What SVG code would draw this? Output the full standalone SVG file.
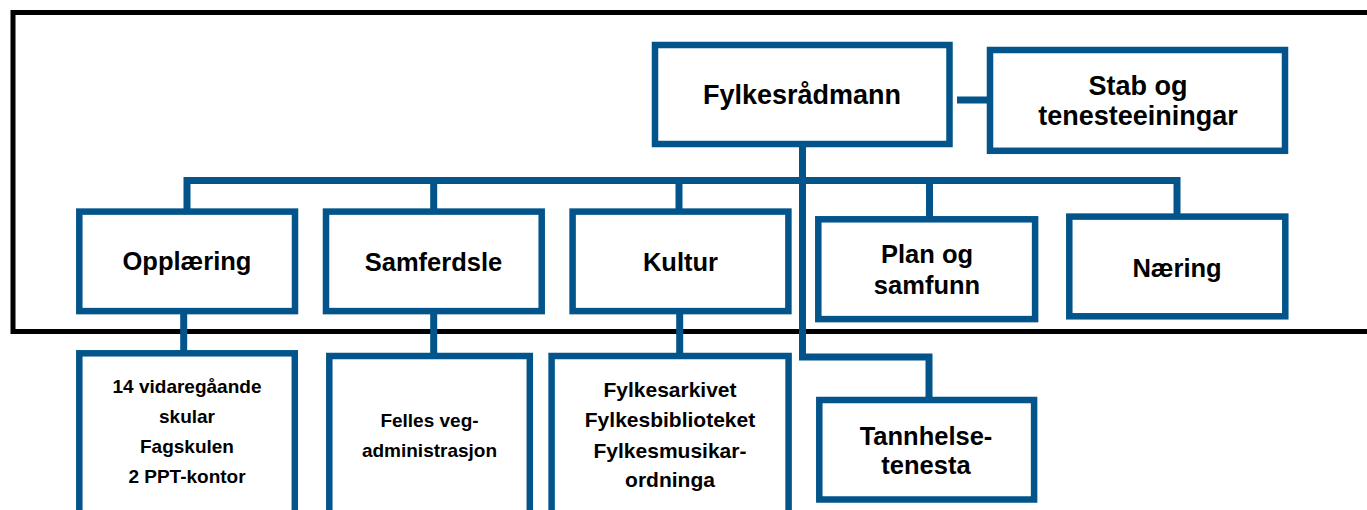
<svg xmlns="http://www.w3.org/2000/svg" width="1367" height="510" viewBox="0 0 1367 510">
<style>
.box{fill:#fff;stroke:#02548a;stroke-width:6.5}
.con{fill:none;stroke:#02548a;stroke-width:7;stroke-linejoin:miter;stroke-linecap:butt}
text{font-family:"Liberation Sans",Arial,sans-serif;font-weight:bold;fill:#000;text-anchor:middle}
.t1{font-size:27px}
.t2{font-size:25.5px}
.s1{font-size:19px}
.s2{font-size:21px}
</style>
<rect width="1367" height="510" fill="#fff"/>
<rect id="frame" x="13" y="12.5" width="1400" height="319" fill="none" stroke="#000" stroke-width="5"/>
<g id="connectors">
<path class="con" d="M957,100 H990"/>
<path class="con" d="M802.5,147 V357 H929 V400"/>
<path class="con" d="M187,211 V180.5 H1177 V216"/>
<path class="con" d="M433.7,180.5 V211"/>
<path class="con" d="M679,180.5 V211"/>
<path class="con" d="M929.5,180.5 V219"/>
<path class="con" d="M183.7,311 V353"/>
<path class="con" d="M433.7,311 V356"/>
<path class="con" d="M679.7,311 V356"/>
</g>
<g id="fylkesradmann"><rect class="box" x="655" y="45" width="294.5" height="99"/><text class="t1" x="802" y="104">Fylkesrådmann</text></g>
<g id="stab"><rect class="box" x="990" y="50" width="295" height="100.8"/><text class="t1" x="1138" y="95">Stab og</text><text class="t1" x="1138" y="125">tenesteeiningar</text></g>
<g id="opplaering"><rect class="box" x="79.3" y="211.6" width="215.7" height="99.5"/><text class="t2" x="187" y="270">Opplæring</text></g>
<g id="samferdsle"><rect class="box" x="326" y="211.6" width="215.7" height="99.5"/><text class="t2" x="433.5" y="270.5">Samferdsle</text></g>
<g id="kultur"><rect class="box" x="572.6" y="211.6" width="215.8" height="99.5"/><text class="t2" x="680.5" y="270.5">Kultur</text></g>
<g id="plan"><rect class="box" x="818.3" y="219.3" width="216.8" height="99.8"/><text class="t2" x="927" y="262.7">Plan og</text><text class="t2" x="927" y="294">samfunn</text></g>
<g id="naering"><rect class="box" x="1069.3" y="216.6" width="216" height="99.7"/><text class="t2" x="1177" y="276.7">Næring</text></g>
<g id="opplaering-sub"><rect class="box" x="79.3" y="353.3" width="215.5" height="170"/><text class="s1" x="187" y="392.7">14 vidaregåande</text><text class="s1" x="187" y="422.7">skular</text><text class="s1" x="187" y="453.3">Fagskulen</text><text class="s1" x="187" y="483.3">2 PPT-kontor</text></g>
<g id="samferdsle-sub"><rect class="box" x="329.3" y="356" width="200.5" height="170"/><text class="s1" x="429.5" y="426.7">Felles veg-</text><text class="s1" x="429.5" y="456.7">administrasjon</text></g>
<g id="kultur-sub"><rect class="box" x="551.6" y="356" width="237" height="170"/><text class="s2" x="670" y="396.7">Fylkesarkivet</text><text class="s2" x="670" y="427.3">Fylkesbiblioteket</text><text class="s2" x="670" y="458">Fylkesmusikar-</text><text class="s2" x="670" y="487">ordninga</text></g>
<g id="tannhelse"><rect class="box" x="819.3" y="400" width="214.8" height="99.5"/><text class="t2" x="926" y="445">Tannhelse-</text><text class="t2" x="926" y="474">tenesta</text></g>
</svg>
